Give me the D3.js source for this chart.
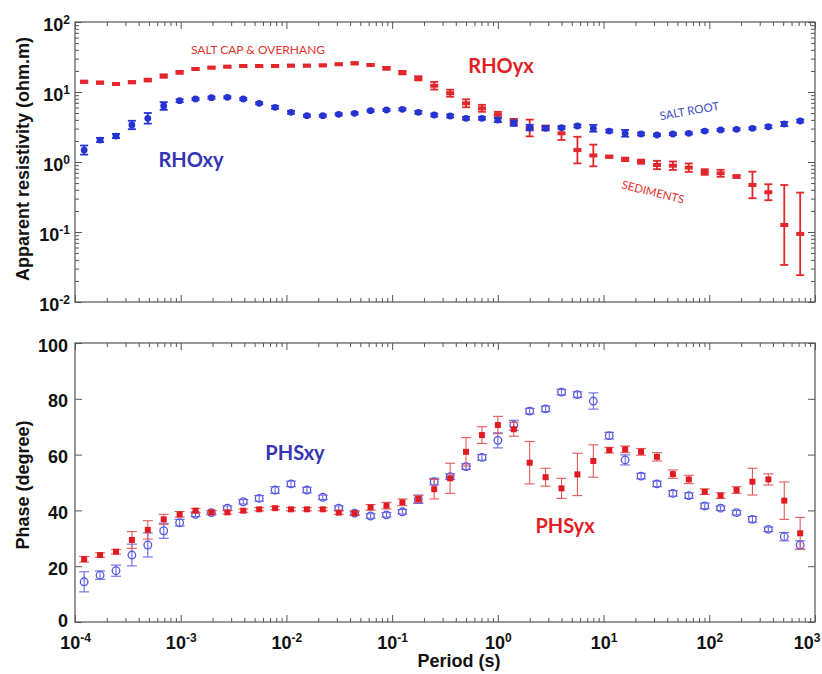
<!DOCTYPE html>
<html>
<head>
<meta charset="utf-8">
<script src="https://cdn.jsdelivr.net/npm/d3@7"></script>
<style>
  html, body { margin: 0; padding: 0; background: #ffffff; }
  svg { display: block; }
</style>
</head>
<body>
<svg id="chart" width="822" height="674"></svg>
<script>
// Sounding periods (s)
const periods = [1.2207e-4, 1.7263e-4, 2.4414e-4, 3.4527e-4, 4.8828e-4, 6.9053e-4, 9.7656e-4, 1.3811e-3, 1.9531e-3, 2.7621e-3,
  3.9063e-3, 5.5243e-3, 7.8125e-3, 1.1049e-2, 1.5625e-2, 2.2097e-2, 3.125e-2, 4.4194e-2, 6.25e-2, 8.8388e-2,
  0.125, 0.17678, 0.25, 0.35355, 0.5, 0.70711, 1, 1.4142, 2, 2.8284,
  4, 5.6569, 8, 11.314, 16, 22.627, 32, 45.255, 64, 90.51,
  128, 181.02, 256, 362.04, 512, 724.08];

// Apparent resistivity (ohm.m); errors are half-widths in log10 units
const rhoXY = [1.48, 2.06, 2.35, 3.38, 4.21, 6.31, 7.51, 7.94, 8.3, 8.4,
  7.94, 6.9, 6.04, 5.13, 4.59, 4.59, 4.8, 4.96, 5.41, 5.53,
  5.66, 5.13, 4.69, 4.54, 4.21, 4.21, 3.98, 3.6, 3.1, 3.03,
  3.09, 3.27, 3.03, 2.77, 2.57, 2.51, 2.43, 2.51, 2.57, 2.77,
  2.87, 2.93, 3.03, 3.19, 3.49, 3.85];
const rhoXYErr = [0.065, 0.03, 0.03, 0.06, 0.076, 0.055, 0.02, 0.015, 0.015, 0.015,
  0.015, 0.015, 0.02, 0.02, 0.015, 0.015, 0.015, 0.015, 0.015, 0.015,
  0.015, 0.02, 0.02, 0.02, 0.02, 0.02, 0.03, 0.04, 0.04, 0.03,
  0.02, 0.02, 0.048, 0.02, 0.048, 0.02, 0.015, 0.015, 0.015, 0.015,
  0.015, 0.015, 0.015, 0.02, 0.03, 0.02];
const rhoYX = [14.0, 13.6, 13.0, 13.8, 14.8, 16.9, 19.1, 21.3, 22.3, 23.0,
  23.5, 23.5, 23.5, 23.8, 23.8, 24.0, 24.9, 25.7, 24.3, 21.8,
  18.9, 15.7, 12.3, 9.6, 6.9, 5.85, 4.75, 3.77, 3.06, 3.1,
  2.57, 1.48, 1.24, 1.19, 1.09, 1.01, 0.906, 0.885, 0.83, 0.72,
  0.69, 0.62, 0.47, 0.37, 0.126, 0.094];
const rhoYXErr = [0.015, 0.015, 0.015, 0.015, 0.02, 0.025, 0.02, 0.015, 0.012, 0.012,
  0.012, 0.012, 0.012, 0.012, 0.012, 0.012, 0.012, 0.015, 0.015, 0.02,
  0.025, 0.03, 0.055, 0.05, 0.057, 0.05, 0.04, 0.04, 0.12, 0.03,
  0.095, 0.19, 0.155, 0.015, 0.025, 0.03, 0.06, 0.06, 0.06, 0.04,
  0.05, 0.02, 0.19, 0.114, 0.571, 0.59];

// Impedance phase (degree) with half-width errors
const phsXY = [14.4, 16.8, 18.4, 24.0, 27.6, 32.7, 35.6, 38.6, 39.2, 40.8,
  43.1, 44.3, 47.3, 49.5, 47.3, 44.7, 40.8, 39.0, 38.0, 38.4,
  39.5, 44.0, 50.3, 52.1, 55.7, 59.0, 65.1, 70.5, 75.6, 76.4,
  82.4, 81.5, 79.2, 66.8, 58.1, 52.3, 49.5, 46.1, 45.3, 41.6,
  40.8, 39.2, 36.8, 33.2, 30.6, 27.6];
const phsXYErr = [3.6, 1.5, 2.0, 3.9, 4.3, 2.7, 1.2, 0.8, 0.8, 0.8,
  0.8, 1.0, 1.2, 1.0, 1.0, 0.8, 0.8, 0.8, 0.8, 0.8,
  0.8, 1.5, 1.2, 1.0, 1.0, 1.0, 2.7, 1.8, 1.0, 1.0,
  1.0, 1.0, 2.9, 1.2, 1.8, 1.0, 1.0, 1.0, 1.0, 1.0,
  0.8, 0.8, 1.0, 0.8, 1.5, 1.5];
const phsYX = [22.5, 24.0, 25.2, 29.4, 33.0, 36.8, 38.6, 39.9, 39.3, 39.3,
  39.9, 40.4, 40.8, 40.4, 40.4, 40.4, 39.2, 39.0, 41.1, 41.7,
  42.9, 44.1, 47.6, 51.5, 61.0, 67.0, 70.6, 69.1, 57.1, 51.9,
  47.9, 52.9, 57.7, 61.6, 61.9, 61.0, 59.2, 53.0, 51.1, 46.7,
  45.3, 47.3, 50.3, 51.1, 43.5, 31.8];
const phsYXErr = [1.0, 0.8, 0.8, 3.0, 3.3, 1.8, 1.0, 0.8, 0.6, 0.6,
  0.6, 0.6, 0.6, 0.6, 0.6, 0.6, 0.6, 0.6, 1.0, 1.2,
  1.2, 1.2, 3.5, 5.4, 5.1, 3.0, 3.1, 2.5, 7.6, 3.2,
  3.6, 7.6, 5.8, 1.0, 1.2, 1.2, 1.5, 1.5, 1.5, 1.0,
  1.0, 1.2, 4.8, 2.0, 6.7, 5.7];

// Axis tick labels
const periodTickExps = [-4, -3, -2, -1, 0, 1, 2, 3];
const rhoTickExps = [-2, -1, 0, 1, 2];
const phaseTicks = [0, 20, 40, 60, 80, 100];

// ---- layout ----
const W = 822;
const L = 75, R = 815;
const T1 = 22, B1 = 302;
const T2 = 343, B2 = 622;
const FONT = "'Liberation Sans', Arial, Helvetica, sans-serif";
const NOTE_FONT = "Lato, 'Open Sans', sans-serif";
const AXIS_COLOR = "#555555";

const svg = d3.select("#chart");

const x = d3.scaleLog().domain([1e-4, 1e3]).range([L, R]);
const yRho = d3.scaleLog().domain([1e-2, 1e2]).range([B1, T1]);
const yPhs = d3.scaleLinear().domain([0, 100]).range([B2, T2]);

const isDecade = d => Math.abs(Math.log10(d) - Math.round(Math.log10(d))) < 1e-9;
const xMajor = periodTickExps.map(e => Math.pow(10, e));
const xMinor = x.ticks().filter(d => !isDecade(d));
const rhoMajor = rhoTickExps.map(e => Math.pow(10, e));
const rhoMinor = yRho.ticks().filter(d => !isDecade(d));

function styleAxis(g) {
  g.select(".domain").remove();
  g.selectAll(".tick line").attr("stroke", AXIS_COLOR).attr("stroke-width", 1);
}

function tickGroup(axis, tx, ty) {
  return svg.append("g").attr("transform", `translate(${tx},${ty})`).call(axis).call(styleAxis);
}

// inward ticks on all four sides of a panel
function panelFrame(top, bottom, yScale, yMajorVals, yMinorVals) {
  tickGroup(d3.axisBottom(x).tickValues(xMinor).tickSize(-4).tickSizeOuter(0).tickFormat(""), 0, bottom);
  tickGroup(d3.axisBottom(x).tickValues(xMajor).tickSize(-7).tickSizeOuter(0).tickFormat(""), 0, bottom);
  tickGroup(d3.axisTop(x).tickValues(xMinor).tickSize(-4).tickSizeOuter(0).tickFormat(""), 0, top);
  tickGroup(d3.axisTop(x).tickValues(xMajor).tickSize(-7).tickSizeOuter(0).tickFormat(""), 0, top);
  tickGroup(d3.axisLeft(yScale).tickValues(yMajorVals).tickSize(-7).tickSizeOuter(0).tickFormat(""), L, 0);
  tickGroup(d3.axisRight(yScale).tickValues(yMajorVals).tickSize(-7).tickSizeOuter(0).tickFormat(""), R, 0);
  if (yMinorVals) {
    tickGroup(d3.axisLeft(yScale).tickValues(yMinorVals).tickSize(-4).tickSizeOuter(0).tickFormat(""), L, 0);
    tickGroup(d3.axisRight(yScale).tickValues(yMinorVals).tickSize(-4).tickSizeOuter(0).tickFormat(""), R, 0);
  }
  svg.append("rect")
    .attr("x", L).attr("y", top).attr("width", R - L).attr("height", bottom - top)
    .attr("fill", "none").attr("stroke", AXIS_COLOR).attr("stroke-width", 1.2);
}

// power-of-ten labels: "10" with a raised exponent
function powerLabels(g) {
  g.selectAll(".tick text").each(function (d) {
    const t = d3.select(this);
    const e = Math.round(Math.log10(d));
    t.text(null);
    t.append("tspan").text("10");
    t.append("tspan").attr("dy", "-0.55em").attr("font-size", "12px").text(e);
  });
}

function labelStyle(g) {
  g.select(".domain").remove();
  g.selectAll(".tick line").remove();
  g.selectAll(".tick text")
    .attr("font-family", FONT).attr("font-size", "18px").attr("font-weight", "bold").attr("fill", "#111");
}

// ---- frames ----
panelFrame(T1, B1, yRho, rhoMajor, rhoMinor);
panelFrame(T2, B2, yPhs, phaseTicks, null);

// y labels, top panel
svg.append("g").attr("transform", `translate(${L},0)`)
  .call(d3.axisLeft(yRho).tickValues(rhoMajor).tickSize(0).tickPadding(5))
  .call(labelStyle)
  .call(g => g.selectAll(".tick text").attr("dy", "0.45em"))
  .call(powerLabels);

// y labels, bottom panel (the zero sits a touch higher to clear the period labels)
svg.append("g").attr("transform", `translate(${L},0)`)
  .call(d3.axisLeft(yPhs).tickValues(phaseTicks).tickSize(0).tickPadding(7).tickFormat(d3.format("d")))
  .call(labelStyle)
  .call(g => g.selectAll(".tick text").attr("dy", d => d === 0 ? "0.25em" : "0.45em"));

// x labels, bottom panel; the last one is kept inside the right edge of the page
svg.append("g").attr("transform", `translate(0,${B2})`)
  .call(d3.axisBottom(x).tickValues(xMajor).tickSize(0).tickPadding(14))
  .call(labelStyle)
  .call(powerLabels)
  .call(g => g.selectAll(".tick text")
    .filter(d => x(d) + 17 > W)
    .attr("text-anchor", "end")
    .attr("x", d => (W - 2) - x(d)));

// axis titles
svg.append("text")
  .attr("transform", `translate(29,159) rotate(-90)`)
  .attr("text-anchor", "middle")
  .attr("font-family", FONT).attr("font-size", "18px").attr("font-weight", "bold").attr("fill", "#111")
  .text("Apparent resistivity (ohm.m)");
svg.append("text")
  .attr("transform", `translate(29,485) rotate(-90)`)
  .attr("text-anchor", "middle")
  .attr("font-family", FONT).attr("font-size", "18px").attr("font-weight", "bold").attr("fill", "#111")
  .text("Phase (degree)");
svg.append("text")
  .attr("x", 459).attr("y", 667)
  .attr("text-anchor", "middle")
  .attr("font-family", FONT).attr("font-size", "18px").attr("font-weight", "bold").attr("fill", "#111")
  .text("Period (s)");

// ---- series ----
function seriesData(vals, errs, logErr) {
  return periods.map((p, i) => ({
    p: p,
    v: vals[i],
    lo: logErr ? vals[i] / Math.pow(10, errs[i]) : vals[i] - errs[i],
    hi: logErr ? vals[i] * Math.pow(10, errs[i]) : vals[i] + errs[i]
  }));
}

function errorBars(data, yScale, color, width, capHalf) {
  const g = svg.append("g").attr("stroke", color).attr("stroke-width", width).attr("fill", "none");
  g.selectAll("line.v").data(data).join("line").attr("class", "v")
    .attr("x1", d => x(d.p)).attr("x2", d => x(d.p))
    .attr("y1", d => yScale(d.lo)).attr("y2", d => yScale(d.hi));
  g.selectAll("line.lo").data(data).join("line").attr("class", "lo")
    .attr("x1", d => x(d.p) - capHalf).attr("x2", d => x(d.p) + capHalf)
    .attr("y1", d => yScale(d.lo)).attr("y2", d => yScale(d.lo));
  g.selectAll("line.hi").data(data).join("line").attr("class", "hi")
    .attr("x1", d => x(d.p) - capHalf).attr("x2", d => x(d.p) + capHalf)
    .attr("y1", d => yScale(d.hi)).attr("y2", d => yScale(d.hi));
  return g;
}

const RED = "#e2262b";
const BLUE = "#2433d2";

// resistivity: yx (red) under xy (blue)
const dRhoYX = seriesData(rhoYX, rhoYXErr, true);
const dRhoXY = seriesData(rhoXY, rhoXYErr, true);
errorBars(dRhoYX, yRho, RED, 1.8, 4);
svg.append("g").selectAll("rect").data(dRhoYX).join("rect")
  .attr("x", d => x(d.p) - 4).attr("y", d => yRho(d.v) - 2)
  .attr("width", 8).attr("height", 4).attr("fill", RED);
errorBars(dRhoXY, yRho, BLUE, 1.8, 4);
svg.append("g").selectAll("circle").data(dRhoXY).join("circle")
  .attr("cx", d => x(d.p)).attr("cy", d => yRho(d.v)).attr("r", 3.4).attr("fill", BLUE);

// phase: xy (blue, open) under yx (red, filled)
const dPhsXY = seriesData(phsXY, phsXYErr, false);
const dPhsYX = seriesData(phsYX, phsYXErr, false);
errorBars(dPhsXY, yPhs, "#6a6ae4", 1.1, 5);
svg.append("g").selectAll("circle").data(dPhsXY).join("circle")
  .attr("cx", d => x(d.p)).attr("cy", d => yPhs(d.v)).attr("r", 3.8)
  .attr("fill", "none").attr("stroke", "#5656dc").attr("stroke-width", 1.3);
errorBars(dPhsYX, yPhs, "#e35a5a", 1.1, 5);
svg.append("g").selectAll("rect").data(dPhsYX).join("rect")
  .attr("x", d => x(d.p) - 3).attr("y", d => yPhs(d.v) - 3)
  .attr("width", 6).attr("height", 6).attr("fill", "#e01c22");

// ---- annotations ----
function note(txt, cx, cy, color, size, weight, angle) {
  svg.append("text")
    .attr("transform", `translate(${cx},${cy}) rotate(${angle || 0})`)
    .attr("text-anchor", "middle")
    .attr("font-family", NOTE_FONT).attr("font-size", size + "px").attr("font-weight", weight)
    .attr("fill", color)
    .text(txt);
}
note("SALT CAP & OVERHANG", 258, 54, "#e3342f", 12, "normal", 0);
note("RHOyx", 501, 73, "#e11f26", 20, "bold", 0);
note("RHOxy", 191, 167, "#3535b4", 20, "bold", 0);
note("SALT ROOT", 690, 115, "#3a4fc4", 11.5, "normal", -10);
note("SEDIMENTS", 652, 196, "#e3342f", 11.5, "normal", 14);
note("PHSxy", 295, 460, "#3535b4", 20, "bold", 0);
note("PHSyx", 565, 533, "#e11f26", 20, "bold", 0);
</script>
</body>
</html>
